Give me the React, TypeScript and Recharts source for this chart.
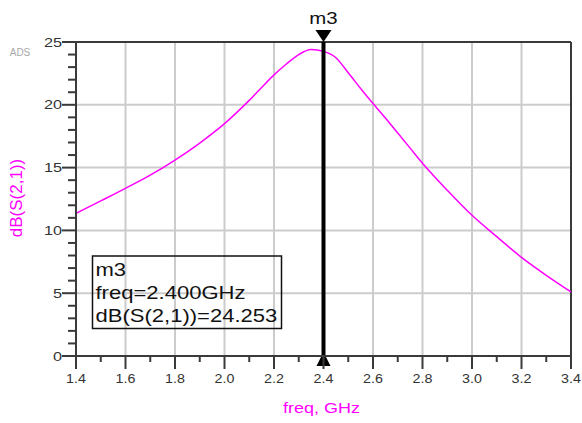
import React from "react";
import {
  LineChart,
  Line,
  XAxis,
  YAxis,
  CartesianGrid,
  ReferenceLine,
  Label,
} from "recharts";

// ---- data ----
const freqGHz = [1.4, 1.5, 1.6, 1.7, 1.8, 1.9, 1.95, 2.0, 2.05, 2.1, 2.15, 2.2, 2.25, 2.3, 2.35, 2.4, 2.45, 2.5, 2.55, 2.6, 2.65, 2.7, 2.75, 2.8, 2.9, 3.0, 3.1, 3.2, 3.3, 3.4];
const dbS21 = [11.35, 12.35, 13.35, 14.4, 15.6, 16.95, 17.7, 18.5, 19.4, 20.35, 21.38, 22.38, 23.25, 24.0, 24.4, 24.253, 23.75, 22.55, 21.3, 20.1, 18.95, 17.75, 16.55, 15.35, 13.2, 11.2, 9.5, 7.85, 6.42, 5.1];

const xMajorTicks = [1.4, 1.6, 1.8, 2.0, 2.2, 2.4, 2.6, 2.8, 3.0, 3.2, 3.4];
const xMajorLabels = ["1.4", "1.6", "1.8", "2.0", "2.2", "2.4", "2.6", "2.8", "3.0", "3.2", "3.4"];
const xMinorTicks = [1.5, 1.7, 1.9, 2.1, 2.3, 2.5, 2.7, 2.9, 3.1, 3.3];
const yMajorTicks = [0, 5, 10, 15, 20, 25];
const yMajorLabels = ["0", "5", "10", "15", "20", "25"];
const yMinorTicks = [1, 2, 3, 4, 6, 7, 8, 9, 11, 12, 13, 14, 16, 17, 18, 19, 21, 22, 23, 24];
const gridX = [1.6, 1.8, 2.0, 2.2, 2.4, 2.6, 2.8, 3.0, 3.2];
const gridY = [5, 10, 15, 20];

const markerName = "m3";
const markerFreq = 2.4;
const markerLines = ["m3", "freq=2.400GHz", "dB(S(2,1))=24.253"];

const data = freqGHz.map((f, i) => ({ freq: f, db: dbS21[i] }));
const allX = [...xMajorTicks, ...xMinorTicks].sort((a, b) => a - b);
const allY = [...yMajorTicks, ...yMinorTicks].sort((a, b) => a - b);

const FONT = "'Liberation Sans', Arial, sans-serif";
const AXIS = "#3a3a3a";
const LABEL = "#333333";
const MAG = "#ff00ff";

const findIdx = (arr: number[], v: number) => arr.findIndex((a) => Math.abs(a - v) < 1e-6);

function XTick(props: any) {
  const { x, y, payload } = props;
  const i = findIdx(xMajorTicks, payload.value);
  const major = i >= 0;
  return (
    <g>
      <line x1={x} x2={x} y1={y} y2={y + (major ? 13 : 6)} stroke={AXIS} strokeWidth={2} />
      {major && (
        <text
          transform={`translate(${x},${y + 27}) scale(1.1,1)`}
          textAnchor="middle"
          fontSize={13}
          fontFamily={FONT}
          fill={LABEL}
        >
          {xMajorLabels[i]}
        </text>
      )}
    </g>
  );
}

function YTick(props: any) {
  const { x, y, payload } = props;
  const i = findIdx(yMajorTicks, payload.value);
  const major = i >= 0;
  return (
    <g>
      <line x1={x} x2={x - (major ? 14 : 8)} y1={y} y2={y} stroke={AXIS} strokeWidth={2} />
      {major && (
        <text
          transform={`translate(${x - 14},${y + 4.5}) scale(1.25,1)`}
          textAnchor="end"
          fontSize={13}
          fontFamily={FONT}
          fill={LABEL}
        >
          {yMajorLabels[i]}
        </text>
      )}
    </g>
  );
}

function MarkerGlyphs(props: any) {
  const vb = props.viewBox || {};
  const x = vb.x;
  const top = vb.y;
  const bottom = vb.y + vb.height;
  return (
    <g>
      <polygon points={`${x - 8},${top - 12} ${x + 8},${top - 12} ${x},${top}`} fill="#000" />
      <polygon points={`${x},${bottom - 4} ${x - 7},${bottom + 10} ${x + 7},${bottom + 10}`} fill="#000" />
      <text
        transform={`translate(${x},${top - 18}) scale(1.2,1)`}
        textAnchor="middle"
        fontSize={17}
        fontFamily={FONT}
        fill="#111"
      >
        {markerName}
      </text>
    </g>
  );
}

function YTitle(props: any) {
  const vb = props.viewBox || {};
  const cx = vb.x + 16;
  const cy = vb.y + vb.height / 2 - 1;
  return (
    <text
      transform={`translate(${cx},${cy}) rotate(-90)`}
      textAnchor="middle"
      dominantBaseline="central"
      fontSize={17}
      fontFamily={FONT}
      fill={MAG}
    >
      dB(S(2,1))
    </text>
  );
}

function XTitle(props: any) {
  const vb = props.viewBox || {};
  const cx = vb.x + vb.width / 2 - 2;
  const cy = vb.y + 57;
  return (
    <text
      transform={`translate(${cx},${cy}) scale(1.2,1)`}
      textAnchor="middle"
      fontSize={15}
      fontFamily={FONT}
      fill={MAG}
    >
      freq, GHz
    </text>
  );
}

export default function App() {
  return (
    <div style={{ position: "absolute", left: 0, top: 0, width: 582, height: 423, background: "#fff" }}>
      <LineChart
        width={582}
        height={423}
        data={data}
        margin={{ top: 42, right: 11, bottom: 0, left: 0 }}
      >
        <CartesianGrid
          stroke="#cccccc"
          strokeWidth={2}
          horizontalValues={gridY}
          verticalValues={gridX}
        />
        <XAxis
          dataKey="freq"
          type="number"
          domain={[1.4, 3.4]}
          ticks={allX}
          interval={0}
          tickSize={0}
          tickMargin={0}
          tick={<XTick />}
          height={67}
          axisLine={{ stroke: AXIS, strokeWidth: 2 }}
          allowDataOverflow
        >
          <Label content={<XTitle />} />
        </XAxis>
        <YAxis
          type="number"
          domain={[0, 25]}
          ticks={allY}
          interval={0}
          tickSize={0}
          tickMargin={0}
          tick={<YTick />}
          width={76}
          axisLine={{ stroke: AXIS, strokeWidth: 2 }}
          allowDataOverflow
        >
          <Label content={<YTitle />} />
        </YAxis>
        <ReferenceLine y={25} stroke={AXIS} strokeWidth={2} />
        <ReferenceLine x={3.4} stroke={AXIS} strokeWidth={2} />
        <Line
          type="monotone"
          dataKey="db"
          stroke={MAG}
          strokeWidth={1.5}
          dot={false}
          isAnimationActive={false}
        />
        <ReferenceLine x={markerFreq} stroke="#000" strokeWidth={4} label={<MarkerGlyphs />} />
      </LineChart>
      <svg
        width={582}
        height={423}
        style={{ position: "absolute", left: 0, top: 0, pointerEvents: "none" }}
      >
        <text x={20} y={56} textAnchor="middle" fontSize={10} fontFamily={FONT} fill="#a8a8a8">
          ADS
        </text>
        <rect x={92.5} y={256} width={189} height={72.5} fill="none" stroke="#111" strokeWidth={1.5} />
        {markerLines.map((t, i) => (
          <text
            key={i}
            transform={`translate(95.5,${276 + i * 22.8}) scale(1.16,1)`}
            fontSize={19}
            fontFamily={FONT}
            fill="#111"
          >
            {t}
          </text>
        ))}
      </svg>
    </div>
  );
}
